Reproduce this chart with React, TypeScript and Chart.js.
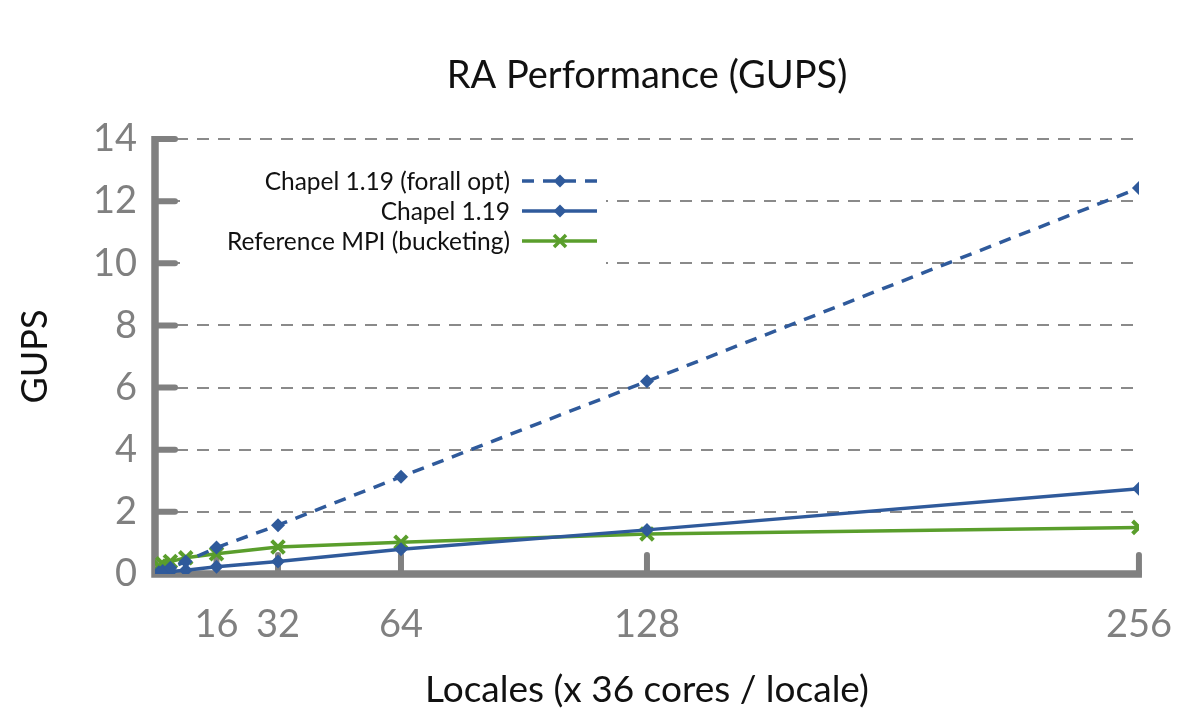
import React, { useEffect, useRef } from "react";
import { Chart, registerables } from "chart.js";

Chart.register(...registerables);

const locales = [1, 2, 4, 8, 16, 32, 64, 128, 256];
const xTickValues = [16, 32, 64, 128, 256];
const forallOpt = [0.05, 0.1, 0.2, 0.4, 0.85, 1.57, 3.13, 6.2, 12.42];
const chapel119 = [0.05, 0.06, 0.08, 0.12, 0.23, 0.4, 0.8, 1.42, 2.74];
const refMPI = [0.25, 0.33, 0.4, 0.52, 0.65, 0.87, 1.02, 1.29, 1.5];
const seriesNames = ["Chapel 1.19 (forall opt)", "Chapel 1.19", "Reference MPI (bucketing)"];
const chartTitle = "RA Performance (GUPS)";
const xTitle = "Locales (x 36 cores / locale)";
const yTitle = "GUPS";

const BLUE = "#2F5A9B";
const GREEN = "#5A9E2C";
const GRAY = "#808080";
const FONT = "Lato, 'Open Sans', sans-serif";

const customDraw = {
  id: "customDraw",
  beforeDatasetsDraw(chart: any) {
    const { ctx, chartArea, scales } = chart;
    const x = scales.x;
    const y = scales.y;
    const left = chartArea.left;
    const right = chartArea.right;
    const y0 = y.getPixelForValue(0);
    ctx.save();
    // dashed gridlines
    ctx.strokeStyle = "#8a8a8a";
    ctx.lineWidth = 2;
    ctx.setLineDash([12, 9]);
    y.ticks.forEach((t: any) => {
      if (t.value === 0) return;
      const py = Math.round(y.getPixelForValue(t.value));
      ctx.beginPath();
      ctx.moveTo(left, py);
      ctx.lineTo(right, py);
      ctx.stroke();
    });
    ctx.setLineDash([]);
    // legend background box
    ctx.fillStyle = "#ffffff";
    ctx.fillRect(180, 158, 426, 116);
    // axes
    ctx.strokeStyle = GRAY;
    ctx.lineWidth = 7.5;
    ctx.lineCap = "butt";
    ctx.beginPath();
    ctx.moveTo(left, y.getPixelForValue(14) - 3);
    ctx.lineTo(left, y0);
    ctx.lineTo(right + 3, y0);
    ctx.stroke();
    ctx.lineCap = "round";
    ctx.lineWidth = 6;
    y.ticks.forEach((t: any) => {
      if (t.value === 0) return;
      const py = y.getPixelForValue(t.value);
      ctx.beginPath();
      ctx.moveTo(left, py);
      ctx.lineTo(left + 20, py);
      ctx.stroke();
    });
    x.ticks.forEach((t: any) => {
      const px = x.getPixelForValue(t.value);
      ctx.beginPath();
      ctx.moveTo(px, y0);
      ctx.lineTo(px, y0 - 19);
      ctx.stroke();
    });
    ctx.restore();
  },
  afterDraw(chart: any) {
    const { ctx, chartArea } = chart;
    ctx.save();
    // title
    ctx.fillStyle = "#111111";
    ctx.font = `38px ${FONT}`;
    ctx.textAlign = "center";
    ctx.textBaseline = "middle";
    ctx.fillText(chartTitle, (chartArea.left + chartArea.right) / 2, 76);
    // legend
    const rows = [181, 211, 241];
    ctx.font = `24.5px ${FONT}`;
    ctx.textAlign = "right";
    chart.data.datasets.forEach((ds: any, i: number) => {
      const ry = rows[i];
      ctx.fillStyle = "#111111";
      ctx.fillText(ds.label, 510, ry + 1);
      ctx.strokeStyle = ds.borderColor;
      ctx.lineWidth = 3.5;
      ctx.setLineDash(ds.borderDash || []);
      ctx.beginPath();
      ctx.moveTo(522, ry);
      ctx.lineTo(597, ry);
      ctx.stroke();
      ctx.setLineDash([]);
      const cx = 560;
      if (ds.pointStyle === "rectRot") {
        ctx.fillStyle = ds.borderColor;
        const r = 6.5;
        ctx.beginPath();
        ctx.moveTo(cx, ry - r);
        ctx.lineTo(cx + r, ry);
        ctx.lineTo(cx, ry + r);
        ctx.lineTo(cx - r, ry);
        ctx.closePath();
        ctx.fill();
      } else {
        ctx.lineWidth = 3.5;
        const r = 6;
        ctx.beginPath();
        ctx.moveTo(cx - r, ry - r);
        ctx.lineTo(cx + r, ry + r);
        ctx.moveTo(cx + r, ry - r);
        ctx.lineTo(cx - r, ry + r);
        ctx.stroke();
      }
    });
    ctx.restore();
  },
};

export default function App() {
  const ref = useRef<HTMLCanvasElement | null>(null);
  useEffect(() => {
    if (!ref.current) return;
    const mk = (vals: number[]) => locales.map((l, i) => ({ x: l, y: vals[i] }));
    const chart = new Chart(ref.current, {
      type: "line",
      data: {
        datasets: [
          {
            label: seriesNames[0],
            data: mk(forallOpt),
            borderColor: BLUE,
            backgroundColor: BLUE,
            borderWidth: 3.5,
            borderDash: [12, 9],
            pointStyle: "rectRot",
            pointRadius: 7,
            pointBorderWidth: 0,
            tension: 0,
          },
          {
            label: seriesNames[1],
            data: mk(chapel119),
            borderColor: BLUE,
            backgroundColor: BLUE,
            borderWidth: 3.5,
            pointStyle: "rectRot",
            pointRadius: 7,
            pointBorderWidth: 0,
            tension: 0,
          },
          {
            label: seriesNames[2],
            data: mk(refMPI),
            borderColor: GREEN,
            backgroundColor: GREEN,
            borderWidth: 3.5,
            pointStyle: "crossRot",
            pointRadius: 9,
            pointBorderWidth: 4,
            tension: 0,
          },
        ],
      },
      options: {
        responsive: true,
        maintainAspectRatio: false,
        animation: false,
        layout: { padding: { top: 139, right: 60, left: 0, bottom: 0 } },
        plugins: {
          legend: { display: false },
          title: { display: false },
          tooltip: { enabled: false },
        },
        scales: {
          x: {
            type: "linear",
            min: 0,
            max: 256,
            afterBuildTicks: (s: any) => {
              s.ticks = xTickValues.map((v) => ({ value: v }));
            },
            afterFit: (s: any) => {
              s.height = 146;
            },
            grid: { display: false, drawTicks: false },
            border: { display: false },
            ticks: {
              color: GRAY,
              font: { family: FONT, size: 38 },
              padding: 28,
              maxRotation: 0,
              autoSkip: false,
            },
            title: {
              display: true,
              text: xTitle,
              color: "#111111",
              font: { family: FONT, size: 37 },
              padding: { top: 0, bottom: 8 },
            },
          },
          y: {
            type: "linear",
            min: 0,
            max: 14,
            afterFit: (s: any) => {
              s.width = 155;
            },
            grid: { display: false, drawTicks: false },
            border: { display: false },
            ticks: {
              stepSize: 2,
              color: GRAY,
              font: { family: FONT, size: 38 },
              padding: 18,
            },
            title: {
              display: true,
              text: yTitle,
              color: "#111111",
              font: { family: FONT, size: 36 },
              padding: { top: 14, bottom: 0 },
            },
          },
        },
      },
      plugins: [customDraw],
    });
    return () => chart.destroy();
  }, []);
  return (
    <div style={{ position: "fixed", left: 0, top: 0, width: 1200, height: 720, background: "#fff" }}>
      <canvas ref={ref} />
    </div>
  );
}
